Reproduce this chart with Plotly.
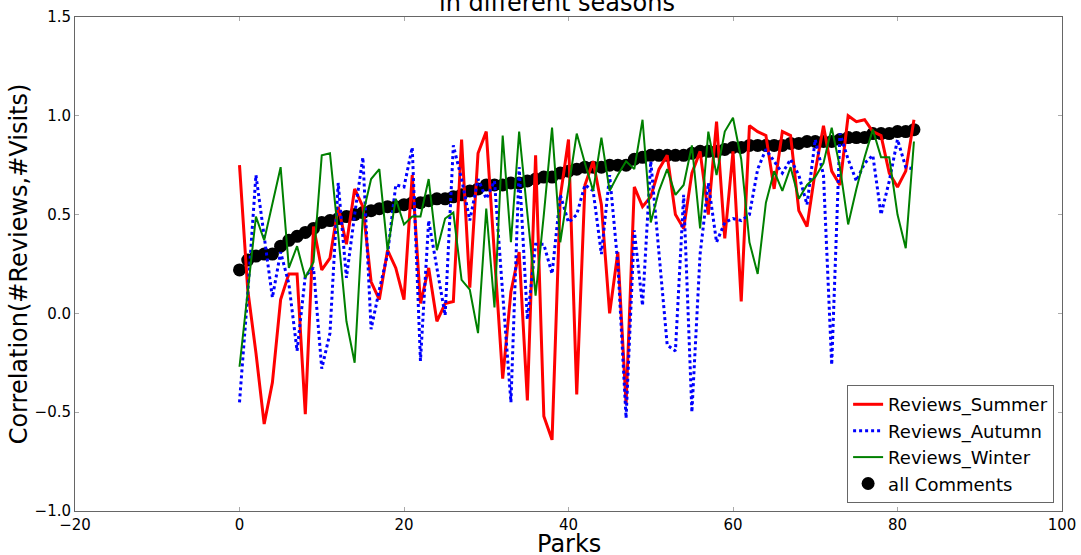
import plotly.graph_objects as go

parks = list(range(83))

summer = [0.75, 0.12, -0.20, -0.56, -0.35, 0.07, 0.20, 0.20, -0.51, 0.44,
          0.22, 0.28, 0.54, 0.35, 0.63, 0.54, 0.16, 0.07, 0.32, 0.23,
          0.07, 0.70, 0.05, 0.23, -0.04, 0.05, 0.06, 0.88, 0.13, 0.81,
          0.92, 0.30, -0.33, 0.11, 0.31, -0.44, 0.80, -0.52, -0.64, 0.59,
          0.88, -0.41, 0.65, 0.77, 0.55, 0.00, 0.31, -0.46, 0.64, 0.54,
          0.59, 0.73, 0.80, 0.50, 0.43, 0.71, 0.82, 0.50, 0.97, 0.38,
          0.82, 0.06, 0.95, 0.92, 0.90, 0.63, 0.92, 0.90, 0.52, 0.44,
          0.72, 0.95, 0.72, 0.65, 1.00, 0.97, 0.98, 0.92, 0.90, 0.71,
          0.64, 0.72, 0.98]

autumn = [-0.45, 0.10, 0.70, 0.40, 0.08, 0.31, 0.15, -0.19, 0.19, 0.23,
          -0.28, -0.10, 0.66, 0.18, 0.50, 0.79, -0.08, 0.12, 0.30, 0.65,
          0.64, 0.84, -0.24, 0.47, 0.22, -0.01, 0.85, 0.68, 0.47, 0.68,
          0.58, 0.67, 0.10, -0.45, 0.74, -0.03, 0.35, 0.35, 0.20, 0.60,
          0.46, 0.50, 0.65, 0.62, 0.30, 0.70, 0.25, -0.53, 0.42, 0.04,
          0.77, 0.30, -0.16, -0.19, 0.60, -0.50, 0.30, 0.66, 0.36, 0.46,
          0.48, 0.47, 0.50, 0.73, 0.83, 0.77, 0.71, 0.78, 0.70, 0.55,
          0.88, 0.70, -0.26, 0.91, 0.78, 0.67, 0.76, 0.80, 0.50, 0.67,
          0.88, 0.74, 0.73]

winter = [-0.27, 0.10, 0.49, 0.37, 0.55, 0.74, 0.23, 0.34, 0.18, 0.26,
          0.80, 0.81, 0.40, -0.04, -0.25, 0.50, 0.68, 0.73, 0.32, 0.58,
          0.45, 0.49, 0.49, 0.68, 0.32, 0.48, 0.51, 0.17, 0.12, -0.10,
          0.53, 0.03, 0.90, 0.36, 0.92, 0.50, 0.09, 0.50, 0.94, 0.36,
          0.64, 0.91, 0.76, 0.62, 0.89, 0.62, 0.70, 0.77, 0.73, 0.98,
          0.46, 0.62, 0.73, 0.60, 0.65, 0.85, 0.43, 0.92, 0.70, 0.92,
          0.99, 0.78, 0.36, 0.20, 0.56, 0.72, 0.62, 0.74, 0.58, 0.65,
          0.69, 0.76, 0.94, 0.74, 0.45, 0.63, 0.79, 0.93, 0.79, 0.79,
          0.50, 0.33, 0.87]

all_comments = [0.22, 0.27, 0.29, 0.30, 0.30, 0.34, 0.37, 0.39, 0.41, 0.43,
                0.46, 0.47, 0.48, 0.49, 0.50, 0.51, 0.52, 0.53, 0.54, 0.54,
                0.55, 0.56, 0.56, 0.57, 0.58, 0.58, 0.59, 0.60, 0.62, 0.63,
                0.65, 0.65, 0.65, 0.66, 0.66, 0.67, 0.68, 0.69, 0.69, 0.71,
                0.72, 0.73, 0.74, 0.74, 0.74, 0.75, 0.75, 0.75, 0.78, 0.79,
                0.80, 0.80, 0.80, 0.80, 0.80, 0.81, 0.82, 0.82, 0.82, 0.83,
                0.84, 0.84, 0.85, 0.85, 0.85, 0.85, 0.85, 0.86, 0.86, 0.87,
                0.87, 0.87, 0.87, 0.88, 0.89, 0.89, 0.89, 0.91, 0.91, 0.91,
                0.92, 0.92, 0.93]

x_ticks = [-20, 0, 20, 40, 60, 80, 100]
x_tick_labels = ["\u221220", "0", "20", "40", "60", "80", "100"]
y_ticks = [-1.0, -0.5, 0.0, 0.5, 1.0, 1.5]
y_tick_labels = ["\u22121.0", "\u22120.5", "0.0", "0.5", "1.0", "1.5"]

FONT = "DejaVu Sans"

fig = go.Figure()
fig.add_trace(go.Scatter(x=parks, y=all_comments, mode="markers", name="all Comments",
                         marker=dict(color="black", size=13, line=dict(width=0)),
                         legendrank=4))
fig.add_trace(go.Scatter(x=parks, y=summer, mode="lines", name="Reviews_Summer",
                         line=dict(color="#ff0000", width=3), legendrank=1))
fig.add_trace(go.Scatter(x=parks, y=autumn, mode="lines", name="Reviews_Autumn",
                         line=dict(color="#0000ff", width=3, dash="dot"), legendrank=2))
fig.add_trace(go.Scatter(x=parks, y=winter, mode="lines", name="Reviews_Winter",
                         line=dict(color="#008000", width=2), legendrank=3))

axis_common = dict(showline=True, linecolor="#666666", linewidth=1, mirror="ticks",
                   ticks="inside", ticklen=4, tickcolor="#aaaaaa", showgrid=False,
                   zeroline=False, automargin=False,
                   tickfont=dict(family=FONT, size=15, color="black"))

fig.update_layout(
    width=1081, height=555,
    margin=dict(l=75, r=19, t=17, b=44),
    paper_bgcolor="white", plot_bgcolor="white",
    font=dict(family=FONT, color="black"),
    xaxis=dict(range=[-20, 100], tickvals=x_ticks, ticktext=x_tick_labels,
               **axis_common),
    yaxis=dict(range=[-1.0, 1.5], tickvals=y_ticks, ticktext=y_tick_labels,
               title=dict(text="Correlation(#Reviews,#Visits)", font=dict(family=FONT, size=24), standoff=0),
               **axis_common),
    legend=dict(x=0.992, y=0.016, xanchor="right", yanchor="bottom",
                bgcolor="white", bordercolor="#666666", borderwidth=1,
                font=dict(family=FONT, size=18, color="black"),
                itemwidth=30, tracegroupgap=0),
    showlegend=True,
)

fig.add_annotation(text="in different seasons", xref="paper", yref="paper",
                   x=(557 - 75) / 987, y=1 + (17 - 3) / 494, xanchor="center", yanchor="middle",
                   showarrow=False, font=dict(family=FONT, size=24, color="black"))
fig.add_annotation(text="Parks", xref="paper", yref="paper",
                   x=0.5, y=-(544 - 511) / 494, xanchor="center", yanchor="middle",
                   showarrow=False, font=dict(family=FONT, size=24, color="black"))

fig.write_html("out.html", config={"displayModeBar": False},
               post_script="document.body.style.margin='0';document.body.style.overflow='hidden';")
